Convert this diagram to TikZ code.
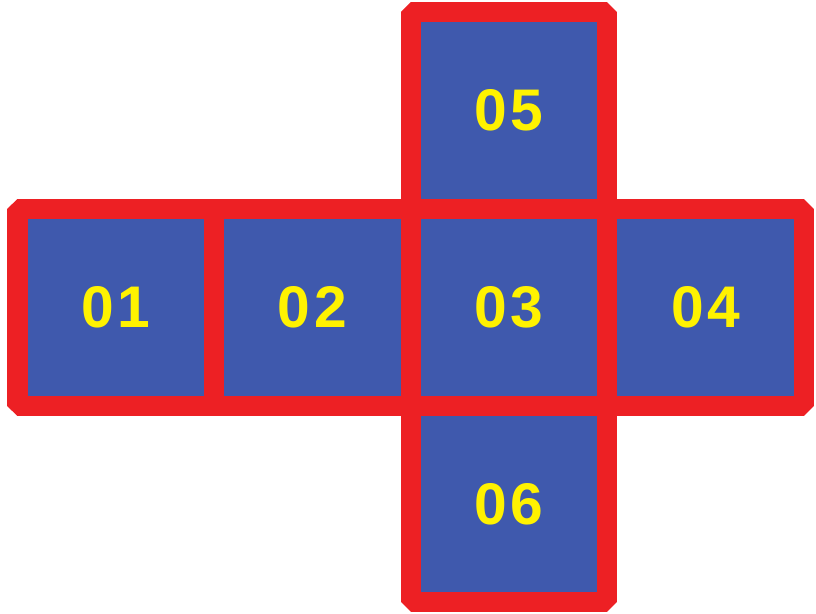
\documentclass[tikz,border=0pt]{standalone}
\usepackage{fontspec}
\setmainfont{Liberation Sans}
\definecolor{netblue}{RGB}{63,89,173}
\definecolor{netred}{RGB}{237,32,36}
\definecolor{netyellow}{RGB}{255,242,0}
\begin{document}
\begin{tikzpicture}[face/.style={rectangle,fill=netblue,minimum size=2cm,inner sep=0pt,outer sep=0pt,text=netyellow,font=\bfseries\fontsize{17}{17}\selectfont\addfontfeatures{LetterSpace=6}},edge line/.style={draw=netred,line width=0.2035cm}]
\useasboundingbox (0,0) rectangle (8.301,6.246);
\node [face](f01) at (1.178,3.12) {01};
\node [face](f02) at (3.178,3.12) {02};
\node [face](f03) at (5.178,3.12) {03};
\node [face](f04) at (7.178,3.12) {04};
\node [face](f05) at (5.178,5.12) {05};
\node [face](f06) at (5.178,1.12) {06};
% outline of the net
\draw [edge line,line join=bevel] (f01.north west) -- (f05.south west) -- (f05.north west) -- (f05.north east) -- (f04.north west) -- (f04.north east) -- (f04.south east) -- (f06.north east) -- (f06.south east) -- (f06.south west) -- (f06.north west) -- (f01.south west) -- cycle;
% folds
\draw [edge line] (f01.north east) -- (f01.south east);
\draw [edge line] (f02.north east) -- (f02.south east);
\draw [edge line] (f03.north east) -- (f03.south east);
\draw [edge line] (f03.north west) -- (f03.north east);
\draw [edge line] (f03.south west) -- (f03.south east);
\end{tikzpicture}
\end{document}
